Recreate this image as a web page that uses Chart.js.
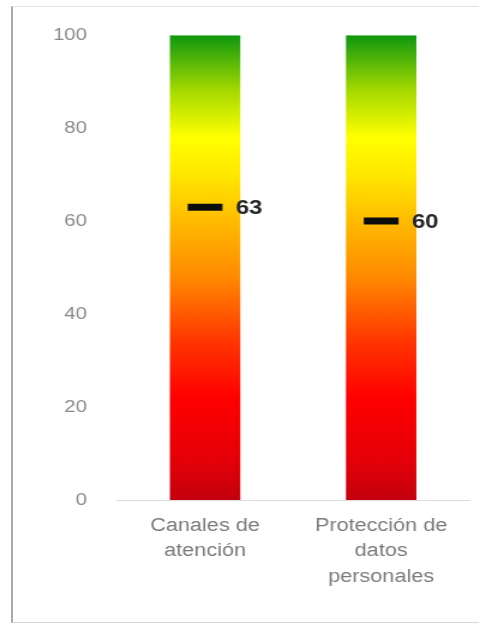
<!DOCTYPE html>
<html>
<head>
<meta charset="utf-8">
<script src="https://cdn.jsdelivr.net/npm/chart.js@4/dist/chart.umd.min.js"></script>
<style>
  html, body { margin: 0; padding: 0; background: #ffffff; }
  #wrap { position: relative; width: 479px; height: 627px; overflow: hidden; }
  #frame {
    position: absolute; left: 11px; top: 6px; width: 470px; height: 617px;
    border-left: 2px solid #a8a8a8; border-top: 1px solid #e4e4e4; border-bottom: 1px solid #d6d6d6;
    box-sizing: border-box;
  }
  #plot {
    position: absolute; left: 0; top: 0; width: 399px; height: 627px;
    transform: scaleX(1.2); transform-origin: 0 0;
  }
  #chart { display: block; width: 399px; height: 627px; }
</style>
</head>
<body>
<div id="wrap">
  <div id="frame"></div>
  <div id="plot"><canvas id="chart" width="399" height="627"></canvas></div>
</div>
<script>
// Categories (multi-line labels), full-scale bars and measured scores
const categories = [
  ['Canales de', 'atención'],
  ['Protección de', 'datos', 'personales']
];
const scaleValues = [100, 100];
const scoreValues = [63, 60];
const yTicks = [0, 20, 40, 60, 80, 100];

// Red -> orange -> yellow -> green fill along the value axis
function barGradient(context) {
  const chart = context.chart;
  const area = chart.chartArea;
  if (!area) return '#ff0000';
  const y = chart.scales.y;
  const g = chart.ctx.createLinearGradient(0, y.getPixelForValue(0), 0, y.getPixelForValue(100));
  g.addColorStop(0.00, '#c4000f');
  g.addColorStop(0.08, '#e20008');
  g.addColorStop(0.22, '#ff0000');
  g.addColorStop(0.34, '#ff3500');
  g.addColorStop(0.48, '#ff8a00');
  g.addColorStop(0.60, '#ffbb00');
  g.addColorStop(0.70, '#ffe800');
  g.addColorStop(0.78, '#ffff00');
  g.addColorStop(0.88, '#a6da00');
  g.addColorStop(1.00, '#0f970f');
  return g;
}

// Writes each score to the right of its marker
const scoreLabels = {
  id: 'scoreLabels',
  afterDatasetsDraw(chart) {
    const meta = chart.getDatasetMeta(1);
    const ds = chart.data.datasets[1];
    const ctx = chart.ctx;
    ctx.save();
    ctx.font = 'bold 20px "Liberation Sans", Arial, sans-serif';
    ctx.fillStyle = '#262626';
    ctx.textAlign = 'left';
    ctx.textBaseline = 'middle';
    meta.data.forEach((pt, i) => {
      ctx.fillText(String(ds.data[i]), pt.x + ds.pointRadius + 11, pt.y + 1);
    });
    ctx.restore();
  }
};

new Chart(document.getElementById('chart'), {
  type: 'bar',
  data: {
    labels: categories,
    datasets: [
      {
        type: 'bar',
        data: scaleValues,
        backgroundColor: barGradient,
        borderWidth: 0,
        barPercentage: 1,
        categoryPercentage: 0.40,
        order: 2
      },
      {
        type: 'line',
        data: scoreValues,
        showLine: false,
        pointStyle: 'line',
        pointRadius: 14.5,
        pointHoverRadius: 14.5,
        pointBorderWidth: 7,
        pointHoverBorderWidth: 7,
        pointBorderColor: '#0d0d0d',
        pointBackgroundColor: '#0d0d0d',
        order: 1
      }
    ]
  },
  options: {
    responsive: false,
    animation: false,
    maintainAspectRatio: false,
    devicePixelRatio: 1,
    layout: { autoPadding: false, padding: { top: 34, right: 8, bottom: 0, left: 0 } },
    plugins: { legend: { display: false }, tooltip: { enabled: false } },
    scales: {
      x: {
        grid: { display: false, drawTicks: false },
        border: { display: true, color: '#dcdcdc', width: 1 },
        ticks: {
          color: '#7a7a7a',
          padding: 14,
          maxRotation: 0,
          autoSkip: false,
          font: { family: '"Liberation Sans", Arial, sans-serif', size: 18, lineHeight: 1.39 }
        },
        afterFit(scale) {
          scale.height = 127;
          scale.paddingLeft = 0;
          scale.paddingRight = 0;
        }
      },
      y: {
        min: 0,
        max: 100,
        afterBuildTicks(scale) { scale.ticks = yTicks.map(v => ({ value: v })); },
        grid: { display: false, drawTicks: false },
        border: { display: false },
        ticks: {
          color: '#8a8a8a',
          padding: 25,
          font: { family: '"Liberation Sans", Arial, sans-serif', size: 17 }
        },
        afterFit(scale) { scale.width = 97.5; }
      }
    }
  },
  plugins: [scoreLabels]
});
</script>
</body>
</html>
